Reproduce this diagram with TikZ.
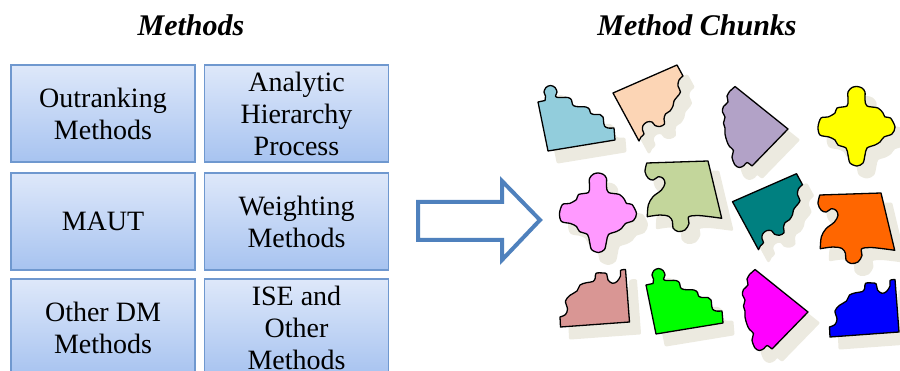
\documentclass[tikz,border=0pt]{standalone}
\usepackage{fontspec}
\setmainfont{Liberation Serif}

\definecolor{boxline}{HTML}{6F98CF}
\definecolor{boxtop}{HTML}{DEE8FA}
\definecolor{boxmid}{HTML}{CCDBF6}
\definecolor{boxbottom}{HTML}{A7C3F0}
\definecolor{arrowblue}{HTML}{4F81BD}
\definecolor{shade}{HTML}{ECEAE0}
\definecolor{pcLightBlue}{HTML}{92CDDC}
\definecolor{pcPeach}{HTML}{FCD5B5}
\definecolor{pcLavender}{HTML}{B2A2C7}
\definecolor{pcYellow}{HTML}{FFFF00}
\definecolor{pcPink}{HTML}{FF99FF}
\definecolor{pcOlive}{HTML}{C3D69B}
\definecolor{pcTeal}{HTML}{008080}
\definecolor{pcOrange}{HTML}{FF6600}
\definecolor{pcRose}{HTML}{D99694}
\definecolor{pcGreen}{HTML}{00FF00}
\definecolor{pcMagenta}{HTML}{FF00FF}
\definecolor{pcBlue}{HTML}{0000FF}

% Outlines of the six piece shapes (each is used twice)
\newcommand\shapeStair{(538,102) -- plot[smooth,tension=.55] coordinates {(545,100.5) (545.5,96) (544,92) (546,87.5) (550.5,85.5) (555,87.5) (557,92) (555.5,96) (558,97.5) (568,97.5) (571.5,100) (572.5,104.5) (576,106.5) (586,107) (589.5,109.5) (590.5,113) (594,114.5) (600,114.5) (603,117) (603.5,121) (604.5,126) (608,128) (614,128)} -- (615,140) -- (548,151) -- cycle}
\newcommand\shapeTabbed{(613,93) -- (677,65) -- (683,76) -- plot[smooth,tension=.55] coordinates {(683,76) (679,80) (678,86) (680.5,92) (677,97) (674,101) (673,106) (670,111) (665.5,114) (664,119) (664.5,124) (660,126.5) (655,125.5) (652,122) (647,122) (643,125.5) (642.5,130) (644,134) (641,137)} -- (639,141) -- cycle}
\newcommand\shapeFan{(735,86.5) -- (788,129) -- (752,166) -- plot[smooth,tension=.55] coordinates {(752,166) (747,162.5) (744,165.5) (739.5,167.5) (735,165) (732,157) (733.5,150.5) (729.5,146.5) (727,141.5) (725,134) (725,128) (723.5,123) (725,117) (722.5,112) (723.5,106.5) (728,102) (727,96) (730,91)} -- cycle}
\newcommand\shapeCross{plot[smooth cycle,tension=.5] coordinates {(857,86.5) (862,88) (865,92) (865,100) (867,106) (878,108) (883,113) (885,117) (890.5,118) (895,127) (892,134) (884,137) (880,142) (875,145) (867,148) (865,155) (863,163) (857,166) (850,163) (848,155) (846,148) (838,145) (835,140) (829,137) (820,135) (818,127) (821,118) (828,117) (835,113) (837,108) (847,106) (848,100) (848,92) (852,87.5)}}
\newcommand\shapeKnobbed{(647,163) -- (708,161) -- (721.7,218.3) -- plot[smooth,tension=.55] coordinates {(721.7,218.3) (710,216.7) (697,215.5) (688.5,217) (689,223.5) (685,230) (678,231.5) (673,228) (672.5,221.5) (669,216.5) (660,215) (647.3,216.7)} -- plot[smooth,tension=.55] coordinates {(647.3,216.7) (648.3,205) (653,196.7) (661.5,190) (665,183.3) (663,178.3) (658.3,176.7) (653.3,180) (648.3,178.3) (645,171.7) (646.7,163.3)} -- cycle}
\newcommand\shapeCorner{(560.5,327) -- (629.5,322) -- (625.5,269.5) -- plot[smooth,tension=.55] coordinates {(625.5,269.5) (620.5,270.5) (620.5,276) (617,281.5) (612.5,283.3) (608,280) (606.7,274) (603,273) (596,273.3) (595.3,278) (593,281.5) (586.5,282.7) (580,285) (577,291) (570,295.3) (565.5,301) (567.5,309) (565.5,314.5) (560,317)} -- cycle}

\begin{document}
\begin{tikzpicture}[x=1pt,y=-1pt,
  methodbox/.style={draw=boxline, line width=1.5pt, top color=boxtop,
    middle color=boxmid, bottom color=boxbottom, minimum width=184pt,
    minimum height=97pt, align=center, inner sep=0pt,
    font=\fontsize{28}{32}\selectfont},
  heading/.style={font=\fontsize{30}{34}\selectfont\bfseries\itshape, anchor=base},
  piece/.style={draw=black, line width=1.3pt, line join=round},
  pieceshadow/.style={fill=shade, draw=shade, line width=3pt, line join=round},
  blockarrow/.style={draw=arrowblue, fill=white, line width=4pt, line join=miter}
]
\useasboundingbox (0,0) rectangle (900,371);
\clip (0,0) rectangle (900,371);

% headings
\node[heading] (t1) at (191,36) {Methods};
\node[heading] (t2) at (697,36) {Method Chunks};

% method boxes
\node[methodbox] (m1) at (103,113.5) {Outranking\\Methods};
\node[methodbox] (m2) at (296.5,113.5) {Analytic\\Hierarchy\\Process};
\node[methodbox] (m3) at (103,221.5) {MAUT};
\node[methodbox] (m4) at (296.5,221.5) {Weighting\\Methods};
\node[methodbox] (m5) at (103,327.5) {Other DM\\Methods};
\node[methodbox] (m6) at (296.5,327.5) {ISE and\\Other\\Methods};

% block arrow
\draw[blockarrow] (418,202) -- (502,202) -- (502,181) -- (540,220)
  -- (502,260) -- (502,240) -- (418,240) -- cycle;

% shadows of the chunks
\begin{scope}[shift={(10,11)}]
  \filldraw[pieceshadow] \shapeStair;
  \filldraw[pieceshadow, shift={(108,183)}] \shapeStair;
  \filldraw[pieceshadow] \shapeTabbed;
  \filldraw[pieceshadow, shift={(119.5,108.7)}] \shapeTabbed;
  \filldraw[pieceshadow] \shapeFan;
  \filldraw[pieceshadow, shift={(20,183)}] \shapeFan;
  \filldraw[pieceshadow] \shapeCross;
  \filldraw[pieceshadow, shift={(-258.5,86.5)}] \shapeCross;
  \filldraw[pieceshadow] \shapeKnobbed;
  \filldraw[pieceshadow, shift={(173,32)}] \shapeKnobbed;
  \filldraw[pieceshadow] \shapeCorner;
  \filldraw[pieceshadow, shift={(269.5,10)}] \shapeCorner;
\end{scope}

% the chunks
\filldraw[piece, fill=pcLightBlue] \shapeStair;
\filldraw[piece, fill=pcGreen, shift={(108,183)}] \shapeStair;
\filldraw[piece, fill=pcPeach] \shapeTabbed;
\filldraw[piece, fill=pcTeal, shift={(119.5,108.7)}] \shapeTabbed;
\filldraw[piece, fill=pcLavender] \shapeFan;
\filldraw[piece, fill=pcMagenta, shift={(20,183)}] \shapeFan;
\filldraw[piece, fill=pcYellow] \shapeCross;
\filldraw[piece, fill=pcPink, shift={(-258.5,86.5)}] \shapeCross;
\filldraw[piece, fill=pcOlive] \shapeKnobbed;
\filldraw[piece, fill=pcOrange, shift={(173,32)}] \shapeKnobbed;
\filldraw[piece, fill=pcRose] \shapeCorner;
\filldraw[piece, fill=pcBlue, shift={(269.5,10)}] \shapeCorner;
\end{tikzpicture}
\end{document}
